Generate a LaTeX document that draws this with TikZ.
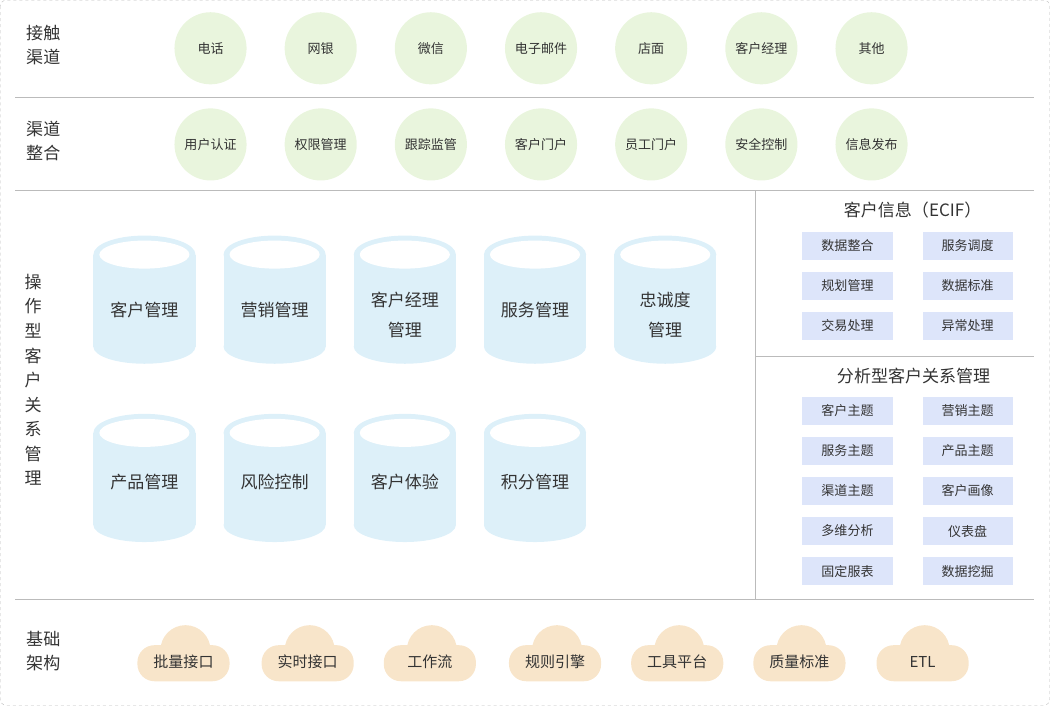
\documentclass[tikz,border=0pt]{standalone}
\usepackage{fontspec}
\setmainfont{Noto Sans CJK SC}
\usetikzlibrary{positioning}
\definecolor{chgreen}{HTML}{E9F5DD}
\definecolor{dbblue}{HTML}{DDF0F9}
\definecolor{tagblue}{HTML}{DDE5FA}
\definecolor{cloudtan}{HTML}{F8E5CA}
\definecolor{txt}{HTML}{333333}
\definecolor{rule}{HTML}{BBBBBB}
\newcommand{\dbcyl}[5]{% name, x, top y, text y, text
    \fill[dbblue] (#2-51,#3) rectangle (#2+51,#3+92);
    \fill[dbblue] (#2,#3+92) ellipse (51 and 17);
    \fill[dbblue] (#2,#3) ellipse (51 and 19);
    \fill[white] (#2,#3) ellipse (45 and 14);
    \node[dbtext] (#1) at (#2,#4) {#5};}
\newcommand{\cloudshape}[3]{% name, x, text
    \fill[cloudtan] (#2+2,650) circle (25);
    \fill[cloudtan,rounded corners=17] (#2-46,645) rectangle (#2+46,681);
    \node[cloudtext] (#1) at (#2,662) {#3};}

\begin{document}
\begin{tikzpicture}[x=1pt,y=-1pt,
    every node/.style={text=txt},
    chan/.style={circle,fill=chgreen,minimum size=72pt,inner sep=0pt,
        font=\fontsize{13}{15}\selectfont},
    side/.style={font=\fontsize{17}{24}\selectfont,align=center},
    dbtext/.style={font=\fontsize{17}{30}\selectfont,align=center},
    tag/.style={fill=tagblue,minimum width=90pt,minimum height=28pt,
        inner sep=0pt,font=\fontsize{13}{15}\selectfont},
    ptitle/.style={font=\fontsize{17}{20}\selectfont},
    cloudtext/.style={font=\fontsize{15}{18}\selectfont}]

    \draw[rule,dashed,rounded corners=6] (1,1) rectangle (1049,705);
    \draw[rule] (16,98) -- (1033,98) (16,191) -- (1033,191) (16,599) -- (1033,599);
    \draw[rule] (755,191) -- (755,599) (755,356) -- (1033,356);

    % channels
    \node[side] (l1) at (44,46) {接触\\渠道};
    \foreach \t [count=\i] in {电话,网银,微信,电子邮件,店面,客户经理,其他}
        \node[chan] (c\i) at (101+110*\i,49) {\t};
    \node[side] (l2) at (44,142) {渠道\\整合};
    \foreach \t [count=\i] in {用户认证,权限管理,跟踪监管,客户门户,员工门户,安全控制,信息发布}
        \node[chan] (g\i) at (101+110*\i,145) {\t};

    % operational CRM
    \node[side,font=\fontsize{17}{24.5}\selectfont] (l3) at (34,380)
        {操\\作\\型\\客\\户\\关\\系\\管\\理};
    \dbcyl{d1}{145}{255}{310}{客户管理}
    \dbcyl{d2}{275}{255}{310}{营销管理}
    \dbcyl{d3}{405}{255}{315}{客户经理\\管理}
    \dbcyl{d4}{535}{255}{310}{服务管理}
    \dbcyl{d5}{665}{255}{315}{忠诚度\\管理}
    \dbcyl{d6}{145}{433}{482}{产品管理}
    \dbcyl{d7}{275}{433}{482}{风险控制}
    \dbcyl{d8}{405}{433}{482}{客户体验}
    \dbcyl{d9}{535}{433}{482}{积分管理}

    % right panels
    \node[ptitle] (ecif) at (912,211) {客户信息（ECIF）};
    \foreach \a/\b [count=\i] in {数据整合/服务调度,规划管理/数据标准,交易处理/异常处理}{
        \node[tag] (e\i a) at (847,206+40*\i) {\a};
        \node[tag] (e\i b) at (967,206+40*\i) {\b};}
    \node[ptitle] (acrm) at (913,376) {分析型客户关系管理};
    \foreach \a/\b [count=\i] in {客户主题/营销主题,服务主题/产品主题,渠道主题/客户画像,多维分析/仪表盘,固定服表/数据挖掘}{
        \node[tag] (a\i a) at (847,371+40*\i) {\a};
        \node[tag] (a\i b) at (967,371+40*\i) {\b};}

    % infrastructure
    \node[side] (l4) at (44,651) {基础\\架构};
    \cloudshape{k1}{184}{批量接口}
    \cloudshape{k2}{308}{实时接口}
    \cloudshape{k3}{430}{工作流}
    \cloudshape{k4}{555}{规则引擎}
    \cloudshape{k5}{677}{工具平台}
    \cloudshape{k6}{799}{质量标准}
    \cloudshape{k7}{922}{ETL}
\end{tikzpicture}
\end{document}
